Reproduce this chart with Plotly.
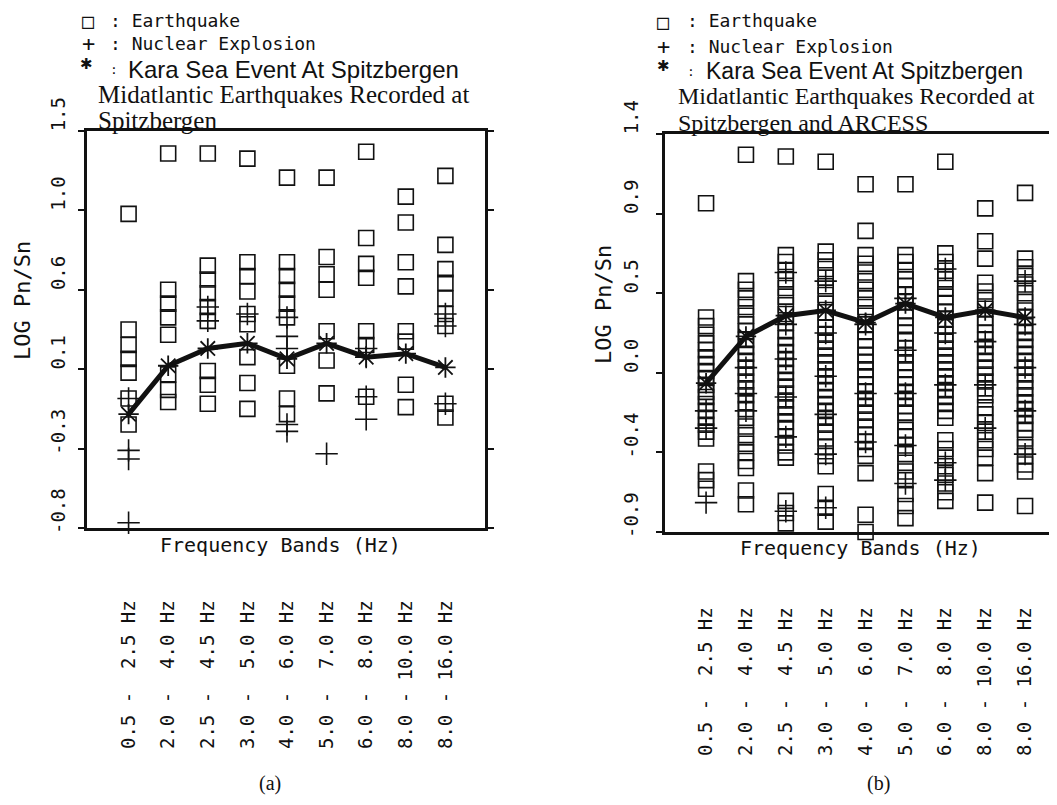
import plotly.graph_objects as go

W, H = 1057, 805          # window size
OFF = 8                   # default body margin of the html page
FW, FH = W - 2 * OFF, H - 2 * OFF

# ---------------- data ----------------
bands = ["0.5 - 2.5 Hz", "2.0 - 4.0 Hz", "2.5 - 4.5 Hz", "3.0 - 5.0 Hz", "4.0 - 6.0 Hz",
         "5.0 - 7.0 Hz", "6.0 - 8.0 Hz", "8.0 - 10.0 Hz", "8.0 - 16.0 Hz"]
band_ticktext = ["0.5 -\u00a0\u00a02.5 Hz", "2.0 -\u00a0\u00a04.0 Hz", "2.5 -\u00a0\u00a04.5 Hz",
                 "3.0 -\u00a0\u00a05.0 Hz", "4.0 -\u00a0\u00a06.0 Hz", "5.0 -\u00a0\u00a07.0 Hz",
                 "6.0 -\u00a0\u00a08.0 Hz", "8.0 - 10.0 Hz", "8.0 - 16.0 Hz"]

# (a) Spitzbergen
yticks_a = [-0.8, -0.34, 0.12, 0.58, 1.04, 1.5]
yticklabels_a = ["-0.8", "-0.3", "0.1", "0.6", "1.0", "1.5"]
eq_a = [
    [1.02, 0.35, 0.26, 0.18, 0.10, -0.05, -0.20],
    [1.37, 0.58, 0.50, 0.42, 0.32, 0.09, 0.00, -0.07],
    [1.37, 0.72, 0.64, 0.56, 0.48, 0.40, 0.11, 0.03, -0.08],
    [1.34, 0.74, 0.66, 0.57, 0.44, 0.38, 0.19, 0.04, -0.11],
    [1.23, 0.74, 0.66, 0.58, 0.50, 0.42, 0.14, -0.05, -0.14],
    [1.23, 0.77, 0.67, 0.58, 0.34, 0.17, -0.02],
    [1.38, 0.88, 0.73, 0.65, 0.34, 0.26, -0.04],
    [1.12, 0.97, 0.74, 0.60, 0.34, 0.28, 0.03, -0.10],
    [1.24, 0.84, 0.70, 0.62, 0.53, 0.44, 0.37, -0.08, -0.16],
]
ne_a = [
    [-0.05, -0.35, -0.40, -0.77],
    [],
    [0.48, 0.40],
    [0.44],
    [0.42, 0.31, 0.24, -0.20, -0.24],
    [-0.37],
    [0.24, 0.19, -0.04, -0.17],
    [],
    [0.44, 0.37, -0.08],
]
kara_a = [-0.14, 0.14, 0.24, 0.27, 0.18, 0.27, 0.19, 0.21, 0.13]

# (b) Spitzbergen and ARCESS
yticks_b = [-0.9, -0.44, 0.02, 0.48, 0.94, 1.4]
yticklabels_b = ["-0.9", "-0.4", "0.0", "0.5", "0.9", "1.4"]
eq_b = [
    [1.00, 0.34, 0.29, 0.24, 0.19, 0.15, 0.11, 0.07, 0.03, -0.01, -0.05, -0.09, -0.12, -0.16,
     -0.20, -0.24, -0.28, -0.32, -0.36, -0.55, -0.60, -0.65],
    [1.28, 0.55, 0.50, 0.45, 0.40, 0.35, 0.30, 0.26, 0.21, 0.17, 0.13, 0.09, 0.05, 0.01, -0.03,
     -0.07, -0.11, -0.15, -0.19, -0.24, -0.29, -0.34, -0.39, -0.44, -0.49, -0.53, -0.66, -0.74],
    [1.27, 0.70, 0.66, 0.61, 0.56, 0.51, 0.46, 0.41, 0.36, 0.31, 0.26, 0.22, 0.18, 0.14, 0.10,
     0.06, 0.02, -0.02, -0.06, -0.10, -0.14, -0.18, -0.22, -0.26, -0.30, -0.35, -0.40, -0.44,
     -0.47, -0.72, -0.79, -0.85],
    [1.24, 0.72, 0.67, 0.62, 0.57, 0.52, 0.47, 0.42, 0.37, 0.33, 0.28, 0.24, 0.20, 0.16, 0.12,
     0.08, 0.04, 0.00, -0.04, -0.08, -0.12, -0.16, -0.20, -0.24, -0.28, -0.32, -0.36, -0.41,
     -0.46, -0.52, -0.68, -0.76, -0.84],
    [1.11, 0.84, 0.70, 0.65, 0.60, 0.55, 0.50, 0.45, 0.40, 0.35, 0.30, 0.26, 0.21, 0.17, 0.12,
     0.08, 0.04, 0.00, -0.05, -0.09, -0.13, -0.17, -0.21, -0.25, -0.29, -0.34, -0.38, -0.42,
     -0.46, -0.56, -0.80, -0.90],
    [1.11, 0.70, 0.66, 0.61, 0.56, 0.52, 0.47, 0.43, 0.38, 0.34, 0.29, 0.25, 0.21, 0.16, 0.12,
     0.08, 0.04, -0.01, -0.05, -0.09, -0.13, -0.17, -0.21, -0.26, -0.31, -0.35, -0.40, -0.45,
     -0.50, -0.55, -0.60, -0.68, -0.75, -0.82],
    [1.24, 0.71, 0.66, 0.61, 0.56, 0.51, 0.46, 0.42, 0.37, 0.33, 0.29, 0.24, 0.20, 0.16, 0.12,
     0.08, 0.04, 0.00, -0.04, -0.08, -0.12, -0.16, -0.20, -0.24, -0.37, -0.42, -0.47, -0.52,
     -0.57, -0.62, -0.67, -0.72],
    [0.97, 0.78, 0.68, 0.54, 0.49, 0.44, 0.39, 0.34, 0.30, 0.25, 0.21, 0.17, 0.13, 0.09, 0.05,
     0.01, -0.03, -0.07, -0.11, -0.18, -0.22, -0.27, -0.32, -0.37, -0.42, -0.47, -0.56, -0.73],
    [1.06, 0.68, 0.63, 0.58, 0.53, 0.48, 0.43, 0.38, 0.34, 0.29, 0.25, 0.21, 0.17, 0.13, 0.09,
     0.05, 0.01, -0.03, -0.07, -0.11, -0.15, -0.19, -0.23, -0.27, -0.31, -0.36, -0.41, -0.46,
     -0.51, -0.55, -0.75],
]
ne_b = [
    [-0.20, -0.30, -0.73],
    [0.05, -0.10, -0.20],
    [0.60, 0.30, 0.10, -0.12, -0.35, -0.78],
    [0.55, 0.25, 0.00, -0.22, -0.45, -0.76],
    [0.30, -0.10, -0.38],
    [0.45, 0.15, -0.10, -0.40, -0.62],
    [0.62, 0.25, -0.05, -0.50, -0.60],
    [0.20, -0.05, -0.30],
    [0.55, 0.30, 0.05, -0.20, -0.45],
]
kara_b = [-0.04, 0.23, 0.35, 0.38, 0.31, 0.42, 0.34, 0.38, 0.34]

# ---------------- styling ----------------
INK = "#111111"
MONO = "DejaVu Sans Mono"
SERIF = "Liberation Serif"
SANS = "Liberation Sans"


def px(x):
    return min(1.0, max(0.0, (x - OFF) / FW))


def py(y):
    return min(1.0, max(0.0, 1 - (y - OFF) / FH))


def flat(groups):
    xs, ys = [], []
    for b, vals in zip(bands, groups):
        for v in vals:
            xs.append(b)
            ys.append(v)
    return xs, ys


fig = go.Figure()

for suffix, eq, ne, kara in (("", eq_a, ne_a, kara_a), ("2", eq_b, ne_b, kara_b)):
    xa, ya = "x" + suffix, "y" + suffix
    ex, ey = flat(eq)
    fig.add_trace(go.Scatter(x=ex, y=ey, mode="markers", xaxis=xa, yaxis=ya, cliponaxis=False,
                             marker=dict(symbol="square-open", size=15, color=INK,
                                         line=dict(width=1.6, color=INK)),
                             showlegend=False))
    nx, ny = flat(ne)
    fig.add_trace(go.Scatter(x=nx, y=ny, mode="markers", xaxis=xa, yaxis=ya, cliponaxis=False,
                             marker=dict(symbol="cross-thin-open", size=16, color=INK,
                                         line=dict(width=1.6, color=INK)),
                             showlegend=False))
    fig.add_trace(go.Scatter(x=bands, y=kara, mode="lines+markers", xaxis=xa, yaxis=ya,
                             cliponaxis=False,
                             line=dict(color=INK, width=5),
                             marker=dict(symbol="asterisk-open", size=17, color=INK,
                                         line=dict(width=1.8, color=INK)),
                             showlegend=False))

axis_common = dict(showgrid=False, zeroline=False, showline=True, linecolor=INK, linewidth=2.5,
                   automargin=False)
TICKFONT = dict(family=MONO, size=19, color=INK)

fig.update_layout(
    width=FW, height=FH, autosize=False,
    margin=dict(l=0, r=0, t=0, b=0, pad=0, autoexpand=False),
    paper_bgcolor="white", plot_bgcolor="white",
    font=dict(family=MONO, color=INK),
    xaxis=dict(domain=[px(87), px(485)], anchor="y", type="category",
               categoryorder="array", categoryarray=bands,
               range=[-1.05, 9.0], mirror=True, ticks="",
               tickvals=bands, ticktext=band_ticktext, tickangle=-90,
               tickfont=TICKFONT, ticklabelstandoff=62, **axis_common),
    yaxis=dict(domain=[py(528), py(131)], anchor="x", range=[-0.8, 1.5],
               tickvals=yticks_a, ticktext=yticklabels_a, tickangle=-90,
               ticks="outside", ticklen=6, tickwidth=1.5, tickcolor=INK, mirror="ticks",
               tickfont=TICKFONT, ticklabelshift=-14, ticklabelstandoff=6, **axis_common),
    xaxis2=dict(domain=[px(665), 1.0], anchor="y2", type="category",
                categoryorder="array", categoryarray=bands,
                range=[-1.03, 8.6], mirror=True, ticks="",
                tickvals=bands, ticktext=band_ticktext, tickangle=-90,
                tickfont=TICKFONT, ticklabelstandoff=65, **axis_common),
    yaxis2=dict(domain=[py(532), py(134)], anchor="x2", range=[-0.9, 1.4],
                tickvals=yticks_b, ticktext=yticklabels_b, tickangle=-90,
                ticks="outside", ticklen=6, tickwidth=1.5, tickcolor=INK,
                tickfont=TICKFONT, ticklabelshift=-14, ticklabelstandoff=11, **axis_common),
)

ann = []


def text(x, y, s, family=MONO, size=18, xanchor="left", angle=0):
    ann.append(dict(x=px(x), y=py(y), xref="paper", yref="paper", text=s, showarrow=False,
                    xanchor=xanchor, yanchor="middle", textangle=angle,
                    font=dict(family=family, size=size, color=INK)))


# legend + titles, panel (a)
text(88, 21, "\u25a1", size=20, xanchor="center")
text(108, 20, ": Earthquake")
text(88, 43, "+", size=22, xanchor="center")
text(108, 44, ": Nuclear Explosion")
text(86, 64, "\u2731", family="DejaVu Sans", size=15, xanchor="center")
text(108, 69, ":", size=13)
text(126, 69, "Kara Sea Event At Spitzbergen", family=SANS, size=24)
text(96, 94, "Midatlantic Earthquakes Recorded at", family=SERIF, size=25)
text(96, 121, "Spitzbergen", family=SERIF, size=25)
text(22, 301, "LOG Pn/Sn", size=22, xanchor="center", angle=-90)
text(280, 545, "Frequency Bands (Hz)", size=20, xanchor="center")
text(270, 783, "(a)", family=SERIF, size=20, xanchor="center")

# legend + titles, panel (b)
text(663, 22, "\u25a1", size=20, xanchor="center")
text(685, 21, ": Earthquake")
text(663, 46, "+", size=22, xanchor="center")
text(685, 47, ": Nuclear Explosion")
text(663, 66, "\u2731", family="DejaVu Sans", size=15, xanchor="center")
text(685, 71, ":", size=13)
text(704, 71, "Kara Sea Event At Spitzbergen", family=SANS, size=23)
text(676, 96, "Midatlantic Earthquakes Recorded at", family=SERIF, size=24)
text(676, 123, "Spitzbergen and ARCESS", family=SERIF, size=24)
text(603, 305, "LOG Pn/Sn", size=22, xanchor="center", angle=-90)
text(860, 548, "Frequency Bands (Hz)", size=20, xanchor="center")
text(878, 783, "(b)", family=SERIF, size=20, xanchor="center")

fig.update_layout(annotations=ann)

fig.write_html("out.html")
